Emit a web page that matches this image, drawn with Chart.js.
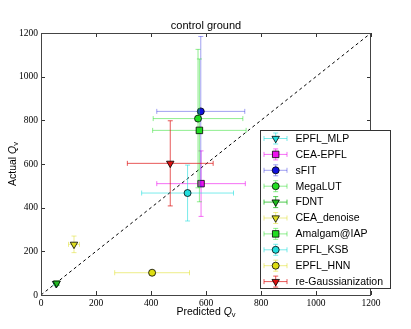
<!DOCTYPE html>
<html>
<head>
<meta charset="utf-8">
<script src="https://cdn.jsdelivr.net/npm/chart.js@4.4.1/dist/chart.umd.min.js"></script>
<style>
  html, body { margin: 0; padding: 0; background: #fff; }
  #chart { display: block; }
</style>
</head>
<body>
<canvas id="chart" width="411" height="329"></canvas>
<script>
// methods in the order they were plotted (also legend order)
const names = ['EPFL_MLP', 'CEA-EPFL', 'sFIT', 'MegaLUT', 'FDNT', 'CEA_denoise',
               'Amalgam@IAP', 'EPFL_KSB', 'EPFL_HNN', 're-Gaussianization'];
const predicted    = [55, 582, 581, 571, 57, 120, 576, 533, 404, 470];
const predictedErr = [8, 161, 160, 163, 8, 20, 170, 167, 136, 156];
const actual       = [52, 510, 841, 808, 54, 232, 754, 467, 102, 603];
const actualErr    = [8, 150, 343, 317, 10, 38, 327, 128, 6, 195];
const shapes = ['triangle', 'rect', 'circle', 'circle', 'triangle', 'triangle',
                'rect', 'circle', 'circle', 'triangle'];
const colors = ['#22dddd', '#ee11ee', '#1111dd', '#22dd22', '#22bb22', '#dddd22',
                '#22dd22', '#22dddd', '#dddd11', '#dd1111'];
const barColors = ['rgba(34,221,221,0.6)', 'rgba(238,17,238,0.6)', 'rgba(17,17,221,0.4)',
                   'rgba(34,221,34,0.5)', 'rgba(34,187,34,0.8)', 'rgba(221,221,34,0.5)',
                   'rgba(34,221,34,0.5)', 'rgba(34,221,221,0.6)', 'rgba(221,221,17,0.5)',
                   'rgba(221,17,17,0.7)'];
const xTicks = [0, 200, 400, 600, 800, 1000, 1200];
const yTicks = [0, 200, 400, 600, 800, 1000, 1200];

const sans = '"Liberation Sans", Arial, sans-serif';
const serif = '"Liberation Serif", "DejaVu Serif", serif';

function markerRadius(shape) {
    if (shape === 'rect') return 4.6;
    if (shape === 'triangle') return 4.3;
    return 3.5;
}

// Function to draw one error bar with caps
function drawBar(ctx, x1, y1, x2, y2, cap, horizontal) {
    ctx.beginPath();
    ctx.moveTo(x1, y1);
    ctx.lineTo(x2, y2);
    if (horizontal) {
        ctx.moveTo(x1, y1 - cap); ctx.lineTo(x1, y1 + cap);
        ctx.moveTo(x2, y2 - cap); ctx.lineTo(x2, y2 + cap);
    } else {
        ctx.moveTo(x1 - cap, y1); ctx.lineTo(x1 + cap, y1);
        ctx.moveTo(x2 - cap, y2); ctx.lineTo(x2 + cap, y2);
    }
    ctx.stroke();
}

const errorBars = {
    id: 'errorBars',
    beforeDatasetDraw(chart, args) {
        const i = args.index;
        if (i >= names.length) return;
        const ctx = chart.ctx;
        const xs = chart.scales.x, ys = chart.scales.y;
        const px = xs.getPixelForValue(predicted[i]);
        const py = ys.getPixelForValue(actual[i]);
        ctx.save();
        ctx.strokeStyle = barColors[i];
        ctx.lineWidth = 1;
        drawBar(ctx, xs.getPixelForValue(predicted[i] - predictedErr[i]), py,
                xs.getPixelForValue(predicted[i] + predictedErr[i]), py, 2.5, true);
        drawBar(ctx, px, ys.getPixelForValue(actual[i] - actualErr[i]),
                px, ys.getPixelForValue(actual[i] + actualErr[i]), 2.5, false);
        ctx.restore();
    }
};

// axis label with italic Q and subscript v
function qLabel(ctx, text, x, y) {
    ctx.font = '10.5px ' + sans;
    const w1 = ctx.measureText(text).width;
    ctx.font = 'italic 10.5px ' + sans;
    const w2 = ctx.measureText('Q').width;
    ctx.font = '7.5px ' + sans;
    const w3 = ctx.measureText('v').width;
    const s = x - (w1 + w2 + w3) / 2;
    ctx.textAlign = 'left';
    ctx.font = '10.5px ' + sans;
    ctx.fillText(text, s, y);
    ctx.font = 'italic 10.5px ' + sans;
    ctx.fillText('Q', s + w1, y);
    ctx.font = '7.5px ' + sans;
    ctx.fillText('v', s + w1 + w2, y + 2);
}

const frameAndText = {
    id: 'frameAndText',
    afterDatasetsDraw(chart) {
        const ctx = chart.ctx;
        const a = chart.chartArea;
        const xs = chart.scales.x, ys = chart.scales.y;
        ctx.save();
        // inward ticks on all four sides
        ctx.strokeStyle = '#333';
        ctx.lineWidth = 1;
        ctx.beginPath();
        xTicks.forEach(v => {
            const x = Math.round(xs.getPixelForValue(v)) + 0.5;
            ctx.moveTo(x, a.bottom); ctx.lineTo(x, a.bottom - 4);
            ctx.moveTo(x, a.top); ctx.lineTo(x, a.top + 4);
        });
        yTicks.forEach(v => {
            const y = Math.round(ys.getPixelForValue(v)) + 0.5;
            ctx.moveTo(a.left, y); ctx.lineTo(a.left + 4, y);
            ctx.moveTo(a.right, y); ctx.lineTo(a.right - 4, y);
        });
        ctx.stroke();
        ctx.strokeStyle = '#444';
        ctx.strokeRect(a.left + 0.5, a.top + 0.5, a.right - a.left - 1, a.bottom - a.top);
        ctx.restore();
    },
    afterDraw(chart) {
        const ctx = chart.ctx;
        const a = chart.chartArea;
        const cx = (a.left + a.right) / 2, cy = (a.top + a.bottom) / 2;
        ctx.save();
        ctx.fillStyle = '#000';
        ctx.textBaseline = 'alphabetic';
        ctx.textAlign = 'center';
        ctx.font = '11px ' + sans;
        ctx.fillText('control ground', cx, a.top - 4);

        qLabel(ctx, 'Predicted ', cx, 315);
        ctx.save();
        ctx.translate(16, cy);
        ctx.rotate(-Math.PI / 2);
        qLabel(ctx, 'Actual ', 0, 0);
        ctx.restore();

        // legend box
        const lx = 260, ly = 130, lw = 130, lh = 158;
        ctx.fillStyle = '#fff';
        ctx.fillRect(lx, ly, lw, lh);
        ctx.strokeStyle = '#333';
        ctx.lineWidth = 1;
        ctx.strokeRect(lx + 0.5, ly + 0.5, lw, lh);
        names.forEach((name, i) => {
            const y = 138.5 + i * 15.9;
            const mx = 275.7;
            ctx.strokeStyle = barColors[i];
            ctx.lineWidth = 1;
            drawBar(ctx, 264, y, 287, y, 2.5, true);
            drawBar(ctx, mx, y - 5.5, mx, y + 5.5, 2.5, false);
            ctx.fillStyle = colors[i];
            ctx.strokeStyle = '#000';
            ctx.lineWidth = 0.8;
            Chart.helpers.drawPoint(ctx, {
                pointStyle: shapes[i],
                radius: markerRadius(shapes[i]),
                rotation: shapes[i] === 'triangle' ? 180 : 0,
                borderWidth: 0.8
            }, mx, y);
            ctx.fillStyle = '#000';
            ctx.font = '10.5px ' + sans;
            ctx.textAlign = 'left';
            ctx.textBaseline = 'middle';
            ctx.fillText(name, 295.5, y + 0.5);
        });
        ctx.restore();
    }
};

const datasets = names.map((name, i) => ({
    label: name,
    data: [{ x: predicted[i], y: actual[i] }],
    pointStyle: shapes[i],
    pointRadius: markerRadius(shapes[i]),
    pointHoverRadius: markerRadius(shapes[i]),
    pointRotation: shapes[i] === 'triangle' ? 180 : 0,
    backgroundColor: colors[i],
    borderColor: '#000',
    borderWidth: 0.8,
    order: names.length - i
}));

// one-to-one reference line
datasets.push({
    label: 'diagonal',
    data: [{ x: 0, y: 0 }, { x: 1200, y: 1200 }],
    showLine: true,
    borderColor: '#000',
    borderWidth: 1,
    borderDash: [3, 3],
    pointRadius: 0,
    order: 100
});

const tickFont = { family: serif, size: 9.5 };

new Chart(document.getElementById('chart'), {
    type: 'scatter',
    data: { datasets: datasets },
    plugins: [errorBars, frameAndText],
    options: {
        responsive: false,
        animation: false,
        devicePixelRatio: 1,
        layout: { padding: { top: 33, right: 40, left: 0, bottom: 0 } },
        plugins: {
            legend: { display: false },
            tooltip: { enabled: false },
            title: { display: false }
        },
        scales: {
            x: {
                type: 'linear',
                min: 0, max: 1200,
                afterBuildTicks: s => { s.ticks = xTicks.map(v => ({ value: v })); },
                afterFit: s => { s.height = 34; },
                grid: { display: false, drawTicks: false },
                border: { display: false },
                ticks: { color: '#000', padding: 3, font: tickFont, callback: v => String(v) }
            },
            y: {
                type: 'linear',
                min: 0, max: 1200,
                afterBuildTicks: s => { s.ticks = yTicks.map(v => ({ value: v })); },
                afterFit: s => { s.width = 41; },
                grid: { display: false, drawTicks: false },
                border: { display: false },
                ticks: { color: '#000', padding: 3, font: tickFont, callback: v => String(v) }
            }
        }
    }
});
</script>
</body>
</html>
